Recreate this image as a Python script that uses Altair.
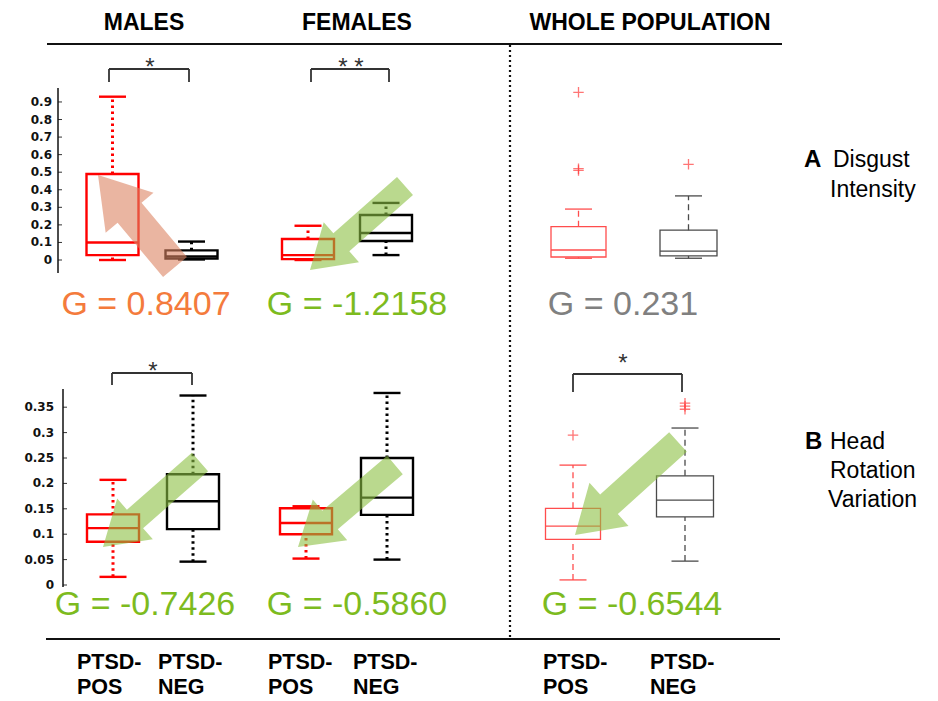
import math
import altair as alt
import pandas as pd

# ----------------------------------------------------------------- data
groups = ["Males PTSD-POS", "Males PTSD-NEG", "Females PTSD-POS",
          "Females PTSD-NEG", "Whole PTSD-POS", "Whole PTSD-NEG"]

# A  Disgust Intensity (box statistics)
disgust_lo  = [0.000, 0.003, 0.000, 0.028, 0.010, 0.010]
disgust_q1  = [0.028, 0.008, 0.005, 0.108, 0.017, 0.023]
disgust_med = [0.100, 0.020, 0.028, 0.154, 0.057, 0.050]
disgust_q3  = [0.490, 0.055, 0.120, 0.256, 0.190, 0.170]
disgust_hi  = [0.930, 0.105, 0.195, 0.325, 0.290, 0.365]
disgust_out_group = ["Whole PTSD-POS", "Whole PTSD-POS", "Whole PTSD-POS", "Whole PTSD-NEG"]
disgust_out_value = [0.955, 0.520, 0.510, 0.545]

# B  Head Rotation Variation
head_lo  = [0.016, 0.046, 0.052, 0.050, 0.010, 0.047]
head_q1  = [0.085, 0.110, 0.100, 0.138, 0.090, 0.134]
head_med = [0.112, 0.165, 0.122, 0.172, 0.116, 0.167]
head_q3  = [0.139, 0.218, 0.151, 0.250, 0.151, 0.215]
head_hi  = [0.207, 0.373, 0.155, 0.378, 0.236, 0.309]
head_out_group = ["Whole PTSD-NEG", "Whole PTSD-NEG", "Whole PTSD-NEG", "Whole PTSD-POS"]
head_out_value = [0.358, 0.352, 0.346, 0.295]

g_disgust = ["G = 0.8407", "G = -1.2158", "G = 0.231"]
g_head = ["G = -0.7426", "G = -0.5860", "G = -0.6544"]
g_disgust_color = ["#f47b3c", "#7dbb1e", "#808080"]
g_head_color = ["#7dbb1e", "#7dbb1e", "#7dbb1e"]

disgust_ticks = [0, 0.1, 0.2, 0.3, 0.4, 0.5, 0.6, 0.7, 0.8, 0.9]
disgust_tick_labels = ["0", "0.1", "0.2", "0.3", "0.4", "0.5", "0.6", "0.7", "0.8", "0.9"]
head_ticks = [0, 0.05, 0.1, 0.15, 0.2, 0.25, 0.3, 0.35]
head_tick_labels = ["0", "0.05", "0.1", "0.15", "0.2", "0.25", "0.3", "0.35"]

headers = ["MALES", "FEMALES", "WHOLE POPULATION"]
footer_line1 = ["PTSD-"] * 6
footer_line2 = ["POS", "NEG", "POS", "NEG", "POS", "NEG"]

# ----------------------------------------------------------------- layout
W, H = 922, 693
BOTTOM = 8 + H
X = alt.Scale(domain=[8, 930], nice=False, zero=False)
PIX = alt.Scale(domain=[8, BOTTOM], reverse=True, nice=False, zero=False)
TOP0, TOPK = 260.0, 175.6     # page y of value 0, px per unit (row A)
BOT0, BOTK = 585.0, 508.0     # row B
YA = alt.Scale(domain=[(TOP0 - BOTTOM) / TOPK, (TOP0 - 8) / TOPK], nice=False, zero=False)
YB = alt.Scale(domain=[(BOT0 - BOTTOM) / BOTK, (BOT0 - 8) / BOTK], nice=False, zero=False)

top_cx = [112.5, 191.5, 308, 386, 578.5, 688.5]
bot_cx = [113, 193, 306, 387, 573, 685]
box_w = [52, 52, 52, 52, 55, 57]
cap_w = 27
colors = ["#ff0000", "#000000", "#ff0000", "#000000", "#ff4d4d", "#4a4a4a"]
FONT = "Liberation Sans"


def box_frame(cx, lo, q1, med, q3, hi):
    df = pd.DataFrame(dict(group=groups, cx=cx, w=box_w, lo=lo, q1=q1,
                           med=med, q3=q3, hi=hi, color=colors))
    df["xl"] = df.cx - df.w / 2
    df["xr"] = df.cx + df.w / 2
    df["cl"] = df.cx - cap_w / 2
    df["cr"] = df.cx + cap_w / 2
    return df


def box_layers(df, ys, bold):
    sw = 2.4 if bold else 1.3
    wsw = 3.0 if bold else 1.3
    dash = [2.5, 3.5] if bold else [6, 4]
    b = alt.Chart(df)
    col = alt.Color("color:N", scale=None)
    xq = lambda f: alt.X(f + ":Q", scale=X, axis=None)
    yq = lambda f: alt.Y(f + ":Q", scale=ys, axis=None)
    return [
        b.mark_rect(fillOpacity=0, strokeWidth=sw).encode(
            x=xq("xl"), x2="xr:Q", y=yq("q1"), y2="q3:Q", stroke=alt.Stroke("color:N", scale=None)),
        b.mark_rule(strokeWidth=sw).encode(x=xq("xl"), x2="xr:Q", y=yq("med"), color=col),
        b.mark_rule(strokeWidth=wsw, strokeDash=dash).encode(x=xq("cx"), y=yq("q3"), y2="hi:Q", color=col),
        b.mark_rule(strokeWidth=wsw, strokeDash=dash).encode(x=xq("cx"), y=yq("lo"), y2="q1:Q", color=col),
        b.mark_rule(strokeWidth=sw).encode(x=xq("cl"), x2="cr:Q", y=yq("hi"), color=col),
        b.mark_rule(strokeWidth=sw).encode(x=xq("cl"), x2="cr:Q", y=yq("lo"), color=col),
    ]


def row_layers(df, ys, out_group, out_value, ticks, tick_labels, axis_x, label_x):
    layers = box_layers(df.iloc[:4], ys, True) + box_layers(df.iloc[4:], ys, False)
    cxmap = dict(zip(df.group, df.cx))
    out = pd.DataFrame(dict(group=out_group, v=out_value))
    out["cx"] = out.group.map(cxmap)
    layers.append(alt.Chart(out).mark_point(
        shape="M-1,0L1,0M0,-1L0,1", filled=False, size=110, strokeWidth=1.3, color="#ff3b3b"
    ).encode(x=alt.X("cx:Q", scale=X, axis=None), y=alt.Y("v:Q", scale=ys, axis=None)))
    tk = pd.DataFrame(dict(v=ticks, label=tick_labels))
    tk["xt"] = label_x
    tk["x0"] = axis_x
    tk["x1"] = axis_x + 4
    layers.append(alt.Chart(tk).mark_text(align="right", font="DejaVu Sans", fontWeight="bold",
                                          fontSize=12, color="#111").encode(
        x=alt.X("xt:Q", scale=X, axis=None), y=alt.Y("v:Q", scale=ys, axis=None), text="label:N"))
    layers.append(alt.Chart(tk).mark_rule(strokeWidth=1, color="#333").encode(
        x=alt.X("x0:Q", scale=X, axis=None), x2="x1:Q", y=alt.Y("v:Q", scale=ys, axis=None)))
    return layers


top_df = box_frame(top_cx, disgust_lo, disgust_q1, disgust_med, disgust_q3, disgust_hi)
bot_df = box_frame(bot_cx, head_lo, head_q1, head_med, head_q3, head_hi)

top_row = alt.layer(*row_layers(top_df, YA, disgust_out_group, disgust_out_value,
                                disgust_ticks, disgust_tick_labels, 58, 52))
bot_row = alt.layer(*row_layers(bot_df, YB, head_out_group, head_out_value,
                                head_ticks, head_tick_labels, 63, 54))

# ---------------------------------------------------------- annotations (page px)
px = lambda f: alt.X(f + ":Q", scale=X, axis=None)
py = lambda f: alt.Y(f + ":Q", scale=PIX, axis=None)

lines = pd.DataFrame(dict(x=[47, 46, 58, 63], x2=[782, 780, 58, 63],
                          y=[44, 639, 88, 389], y2=[44, 639, 273, 587],
                          w=[2, 2, 1.5, 1.5]))
solid = alt.Chart(lines).mark_rule(color="#111").encode(
    x=px("x"), x2="x2:Q", y=py("y"), y2="y2:Q", strokeWidth=alt.StrokeWidth("w:Q", scale=None))
dotted = alt.Chart(pd.DataFrame(dict(x=[510], y=[45], y2=[639]))).mark_rule(
    color="#111", strokeWidth=2.2, strokeDash=[2, 3]).encode(x=px("x"), y=py("y"), y2="y2:Q")

brackets = [(109, 189, 69, 82), (311, 389, 69, 82), (112, 192, 373, 385), (573, 682, 374, 392)]
br_rows = []
for a, b_, yt, yb in brackets:
    br_rows += [dict(x=a, x2=b_, y=yt, y2=yt), dict(x=a, x2=a, y=yt, y2=yb), dict(x=b_, x2=b_, y=yt, y2=yb)]
bracket_layer = alt.Chart(pd.DataFrame(br_rows)).mark_rule(color="#333", strokeWidth=1.8).encode(
    x=px("x"), x2="x2:Q", y=py("y"), y2="y2:Q")
stars = pd.DataFrame(dict(t=["*", "* *", "*", "*"], x=[150, 351, 153, 623], y=[62, 62, 366, 358]))
stars["yb"] = stars.y + 13
star_layer = alt.Chart(stars).mark_text(font=FONT, fontSize=24, baseline="alphabetic", color="#333").encode(
    x=px("x"), y=py("yb"), text="t:N")

arrows = [("salmon", 175, 267, 98, 175), ("green", 405, 186, 310, 270), ("green", 200, 462, 103, 547),
          ("green", 395, 465, 298, 547), ("green", 678, 442, 575, 535)]
arr = []
for kind, x0, y0, x1, y1 in arrows:
    L = math.hypot(x1 - x0, y1 - y0)
    arr.append(dict(kind=kind, cx=(x0 + x1) / 2, cy=(y0 + y1) / 2, size=L * L,
                    angle=math.degrees(math.atan2(y1 - y0, x1 - x0)) % 360))
arr = pd.DataFrame(arr)
GREEN_PATH = "M-1,-0.19L0.34,-0.19L0.34,-0.42L1,0L0.34,0.42L0.34,0.19L-1,0.19Z"
SALMON_PATH = "M-1,-0.26L0.18,-0.26L0.18,-0.52L1,0L0.18,0.52L0.18,0.26L-1,0.26Z"
arrow_layers = []
for kind, path, fill, op in [("green", GREEN_PATH, "#8cc043", 0.6), ("salmon", SALMON_PATH, "#dc8462", 0.6)]:
    arrow_layers.append(alt.Chart(arr[arr.kind == kind]).mark_point(
        shape=path, filled=True, fill=fill, fillOpacity=op, strokeWidth=0).encode(
        x=px("cx"), y=py("cy"), size=alt.Size("size:Q", scale=None), angle=alt.Angle("angle:Q", scale=None)))

hdr = pd.DataFrame(dict(t=headers, x=[144, 357, 650], y=[23, 23, 23]))
hdr_layer = alt.Chart(hdr).mark_text(font=FONT, fontSize=23, fontWeight="bold", color="#000").encode(
    x=px("x"), y=py("y"), text="t:N")

g = pd.DataFrame(dict(t=g_disgust + g_head, c=g_disgust_color + g_head_color,
                      x=[146, 357, 623, 145, 357, 632], y=[305, 305, 305, 605, 605, 605]))
g_layer = alt.Chart(g).mark_text(font=FONT, fontSize=34).encode(
    x=px("x"), y=py("y"), text="t:N", color=alt.Color("c:N", scale=None))

foot_x = [77, 158, 268, 353, 543, 650]
foot = pd.DataFrame(dict(t=footer_line1 + footer_line2, x=foot_x + foot_x, y=[663] * 6 + [688] * 6))
foot_layer = alt.Chart(foot).mark_text(font=FONT, fontSize=21.5, fontWeight="bold", align="left",
                                      color="#000").encode(x=px("x"), y=py("y"), text="t:N")

lab_b = pd.DataFrame(dict(t=["A", "B"], x=[804, 805], y=[160, 442]))
lab_b_layer = alt.Chart(lab_b).mark_text(font=FONT, fontSize=24, fontWeight="bold", align="left",
                                         color="#000").encode(x=px("x"), y=py("y"), text="t:N")
lab = pd.DataFrame(dict(t=["Disgust", "Intensity", "Head", "Rotation", "Variation"],
                        x=[833, 830, 830, 830, 828], y=[160, 190, 442, 471, 500]))
lab_layer = alt.Chart(lab).mark_text(font=FONT, fontSize=23, align="left", color="#000").encode(
    x=px("x"), y=py("y"), text="t:N")

pix_layer = alt.layer(solid, dotted, bracket_layer, star_layer, hdr_layer, g_layer,
                      foot_layer, lab_b_layer, lab_layer)

chart = alt.layer(top_row, bot_row, pix_layer).resolve_scale(y="independent")
chart = alt.layer(chart, alt.layer(*arrow_layers)).resolve_scale(y="independent")
chart = chart.properties(width=W, height=H, padding=0,
                         autosize=alt.AutoSizeParams(type="none"),
                         background="white").configure_view(strokeWidth=0)

chart.save("out.html", embed_options={"renderer": "svg", "actions": False})
